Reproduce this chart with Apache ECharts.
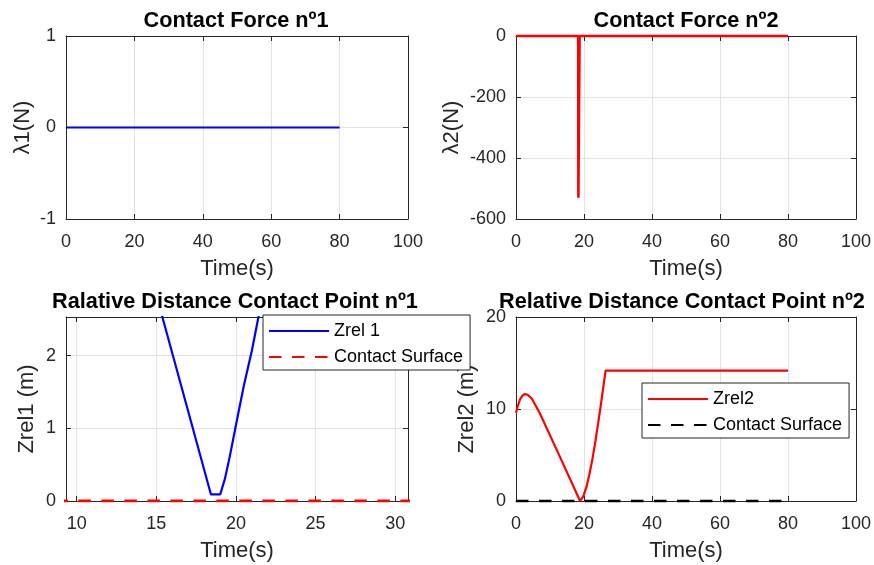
<!DOCTYPE html>
<html lang="en">
<head>
<meta charset="UTF-8">
<title>Contact Force / Relative Distance</title>
<script src="https://cdn.jsdelivr.net/npm/echarts@6/dist/echarts.min.js"></script>
<style>
  html, body { margin: 0; padding: 0; background: #fff; }
  #chart { width: 874px; height: 565px; }
</style>
</head>
<body>
<div id="chart"></div>
<script>
// contact force 1 (flat zero)
var forceTime1 = [0, 80];
var force1 = [0, 0];
// contact force 2 (one impulse near t=18.5)
var forceTime2 = [0, 18.3, 18.35, 18.65, 18.7, 80];
var force2 = [0, 0, -530, -530, 0, 0];
// relative distance, contact point 1
var zrel1Time = [0, 3, 9.3, 14, 15.38, 18.43, 19.01, 19.3, 19.6, 19.96, 20.48, 21.0, 21.42, 22.5, 24, 26.4, 80];
var zrel1 = [9.6, 11.6, 7.4, 3.63, 2.53, 0.09, 0.09, 0.3, 0.6, 1.0, 1.57, 2.07, 2.54, 4.0, 7.5, 14.2, 14.2];
// relative distance, contact point 2
var zrel2Time = [0, 0.5, 1.2, 1.9, 2.6, 3.4, 4.6, 7.0, 12.9, 18.85, 19.8, 20.7, 21.6, 22.5, 23.4, 24.3, 25.2, 26.35, 80];
var zrel2 = [9.6, 10.3, 11.05, 11.45, 11.63, 11.55, 11.16, 9.53, 4.82, 0, 0.5, 1.5, 2.9, 4.6, 6.6, 8.8, 11.1, 14.17, 14.17];
// contact surface
var surfaceTime = [0, 80];
var surface = [0, 0];

function pairs(xs, ys) {
  var out = [];
  for (var i = 0; i < xs.length; i++) out.push([xs[i], ys[i]]);
  return out;
}

var FONT = 'Liberation Sans';
var AX = '#262626';
var GRIDC = '#e2e2e2';

var grids = [
  { left: 66, top: 36, width: 342, height: 183 },
  { left: 516, top: 36, width: 341, height: 183 },
  { left: 66, top: 317, width: 342, height: 184 },
  { left: 516, top: 317, width: 341, height: 184 }
];

var xr = [
  { min: 0, max: 100, interval: 20 },
  { min: 0, max: 100, interval: 20 },
  { min: 9.33, max: 30.8 },
  { min: 0, max: 100, interval: 20 }
];
var yr = [
  { min: -1, max: 1, interval: 1 },
  { min: -600, max: 0, interval: 200 },
  { min: 0, max: 2.53, interval: 1 },
  { min: 0, max: 20, interval: 10 }
];
var yNames = ['\u03bb1(N)', '\u03bb2(N)', 'Zrel1 (m)', 'Zrel2 (m)'];
var yNameGap = [32, 53, 28, 38];
var titles = ['Contact Force n\u00ba1', 'Contact Force n\u00ba2',
              'Ralative Distance Contact Point n\u00ba1', 'Relative Distance Contact Point n\u00ba2'];
var titleX = [236, 686, 235, 682];
var titleY = [10, 10, 291, 291];

// only label whole multiples of the tick step
function stepLabel(step) {
  return function (v) {
    var k = Math.round(v / step);
    return Math.abs(v - k * step) < 1e-6 ? String(k * step) : '';
  };
}
var xStep = [20, 20, 5, 20];
var yStep = [1, 200, 1, 10];

var xAxes = [], yAxes = [];
for (var i = 0; i < 4; i++) {
  xAxes.push(Object.assign({
    type: 'value', gridIndex: i, position: 'bottom',
    name: 'Time(s)', nameLocation: 'middle', nameGap: 39,
    nameTextStyle: { fontFamily: FONT, fontSize: 22, color: AX },
    axisLine: { show: true, onZero: false, lineStyle: { color: AX, width: 1 } },
    axisTick: { show: true, inside: true, length: 5, lineStyle: { color: AX } },
    axisLabel: { fontFamily: FONT, fontSize: 18, color: AX, margin: 14, formatter: stepLabel(xStep[i]) },
    splitLine: { show: true, lineStyle: { color: GRIDC, width: 1 } }
  }, xr[i]));
  yAxes.push(Object.assign({
    type: 'value', gridIndex: i, position: 'left',
    name: yNames[i], nameLocation: 'middle', nameGap: yNameGap[i],
    nameTextStyle: { fontFamily: FONT, fontSize: 22, color: AX },
    axisLine: { show: true, onZero: false, lineStyle: { color: AX, width: 1 } },
    axisTick: { show: true, inside: true, length: 5, lineStyle: { color: AX } },
    axisLabel: { fontFamily: FONT, fontSize: 18, color: AX, margin: 10, formatter: stepLabel(yStep[i]) },
    splitLine: { show: true, lineStyle: { color: GRIDC, width: 1 } }
  }, yr[i]));
}
// mirrored box edges (top and right)
for (var j = 0; j < 4; j++) {
  xAxes.push(Object.assign({
    type: 'value', gridIndex: j, position: 'top',
    axisLine: { show: true, onZero: false, lineStyle: { color: AX, width: 1 } },
    axisTick: { show: true, inside: true, length: 5, lineStyle: { color: AX } },
    axisLabel: { show: false }, splitLine: { show: false }
  }, xr[j]));
  yAxes.push(Object.assign({
    type: 'value', gridIndex: j, position: 'right',
    axisLine: { show: true, onZero: false, lineStyle: { color: AX, width: 1 } },
    axisTick: { show: true, inside: true, length: 5, lineStyle: { color: AX } },
    axisLabel: { show: false }, splitLine: { show: false }
  }, yr[j]));
}

var titleCfg = [];
for (var t = 0; t < 4; t++) {
  titleCfg.push({
    text: titles[t],
    left: titleX[t],
    top: titleY[t],
    padding: 0,
    textAlign: 'center',
    textStyle: { fontFamily: FONT, fontSize: 21.7, fontWeight: 'bold', color: '#000' }
  });
}

function line(name, idx, data, color, width, dash, clip) {
  return {
    name: name, type: 'line', xAxisIndex: idx, yAxisIndex: idx,
    data: data, symbol: 'none', clip: clip, animation: false,
    lineStyle: { color: color, width: width, type: dash || 'solid' },
    itemStyle: { color: color }
  };
}

var legendBase = {
  orient: 'vertical', itemWidth: 60, itemHeight: 18, itemGap: 8,
  borderColor: AX, borderWidth: 1, backgroundColor: '#fff', borderRadius: 0,
  itemStyle: { opacity: 0, borderWidth: 0 },
  textStyle: { fontFamily: FONT, fontSize: 18, color: '#000' },
  formatter: function (n) { return n.trim(); },
  selectedMode: false
};

var option = {
  animation: false,
  title: titleCfg,
  grid: grids,
  xAxis: xAxes,
  yAxis: yAxes,
  legend: [
    Object.assign({ left: 263, top: 315, padding: [7, 7, 4, 5], data: ['Zrel 1', 'Contact Surface'] }, legendBase),
    Object.assign({ left: 642, top: 383, padding: [7, 7, 4, 5], data: ['Zrel2', 'Contact Surface '] }, legendBase)
  ],
  series: [
    line('force1', 0, pairs(forceTime1, force1), '#0000ff', 2.2, null, false),
    line('force2', 1, pairs(forceTime2, force2), '#ff0000', 2.6, null, false),
    line('Zrel 1', 2, pairs(zrel1Time, zrel1), '#0000ff', 2.2, null, true),
    line('Contact Surface', 2, pairs(surfaceTime, surface), '#ff0000', 3, [12.5, 10.5], true),
    line('Zrel2', 3, pairs(zrel2Time, zrel2), '#ff0000', 2.2, null, false),
    line('Contact Surface ', 3, pairs(surfaceTime, surface), '#000000', 2.6, [12.5, 10.5], false)
  ]
};

echarts.init(document.getElementById('chart')).setOption(option);
</script>
</body>
</html>
